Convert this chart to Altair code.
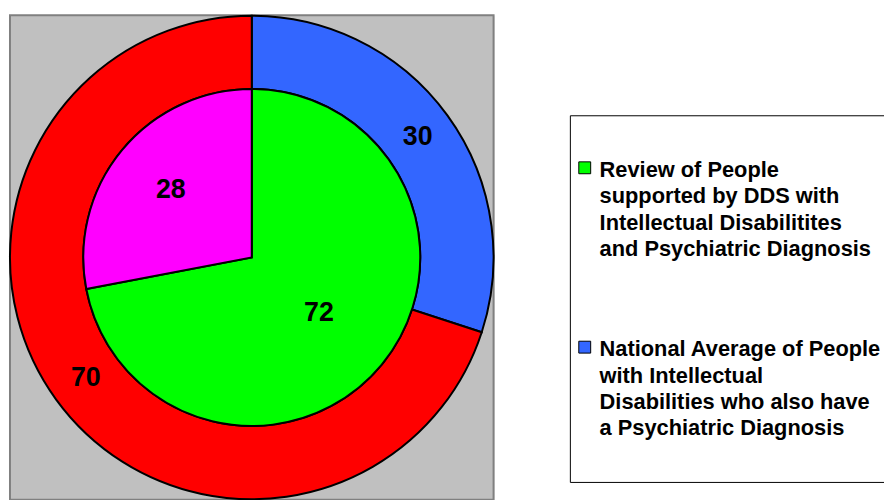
import altair as alt
import pandas as pd

# Outer ring: national average
outer_series = [
    "National Average of People|with Intellectual|Disabilities who also have|a Psychiatric Diagnosis",
    "National Average: other",
]
outer_values = [30, 70]

# Inner pie: review of people supported by DDS
inner_series = [
    "Review of People|supported by DDS with|Intellectual Disabilitites|and Psychiatric Diagnosis",
    "Review: other",
]
inner_values = [72, 28]

series_domain = [outer_series[0], outer_series[1], inner_series[0], inner_series[1]]
series_colors = ["#3366FF", "#FF0000", "#00FF00", "#FF00FF"]
legend_values = [inner_series[0], outer_series[0]]

outer_df = pd.DataFrame({"series": outer_series, "value": outer_values, "idx": list(range(len(outer_values)))})
inner_df = pd.DataFrame({"series": inner_series, "value": inner_values, "idx": list(range(len(inner_values)))})

W, H = 488, 489
P = 42
color = alt.Color(
    "series:N",
    scale=alt.Scale(domain=series_domain, range=series_colors),
    legend=alt.Legend(
        title=None,
        orient="none",
        legendX=565,
        legendY=101,
        values=legend_values,
        labelExpr="split(datum.label, '|')",
        symbolType="square",
        symbolSize=144,
        symbolStrokeColor="black",
        symbolStrokeWidth=1,
        labelFont="Liberation Sans",
        labelFontSize=22,
        labelFontWeight="bold",
        labelColor="black",
        labelLimit=1000,
        padding=P,
        symbolOffset={"expr": str(4 - P)},
        labelOffset=4,
        rowPadding=76,
        strokeColor="black",
        fillColor="white",
    ),
)

theta = alt.Theta("value:Q", stack=True)
order = alt.Order("idx:Q", sort="ascending")

background = alt.Chart(pd.DataFrame({"v": [0]})).mark_rect(
    fill="#C0C0C0", stroke="#808080", strokeWidth=2
).encode(x=alt.value(0), x2=alt.value(W), y=alt.value(0), y2=alt.value(H))

outer_arc = alt.Chart(outer_df).mark_arc(
    radius=244, innerRadius=170, stroke="black", strokeWidth=2
).encode(theta=theta, color=color, order=order)

inner_arc = alt.Chart(inner_df).mark_arc(
    radius=170, stroke="black", strokeWidth=2
).encode(theta=theta, color=color, order=order)

label_style = dict(font="Liberation Sans", fontSize=27, fontWeight="bold", color="black")

outer_text = alt.Chart(outer_df).mark_text(radius=207, **label_style).encode(
    theta=theta, order=order, text="value:Q"
)
inner_text_main = alt.Chart(inner_df).mark_text(radius=88, **label_style).encode(
    theta=theta, order=order, text="value:Q", opacity=alt.condition("datum.idx == 0", alt.value(1), alt.value(0))
)
inner_text_rest = alt.Chart(inner_df).mark_text(radius=106, **label_style).encode(
    theta=theta, order=order, text="value:Q", opacity=alt.condition("datum.idx == 1", alt.value(1), alt.value(0))
)

chart = alt.layer(
    background, outer_arc, inner_arc, outer_text, inner_text_main, inner_text_rest
).properties(
    width=W,
    height=H,
    padding={"left": 2, "top": 5, "right": 394, "bottom": 0},
    autosize=alt.AutoSizeParams(type="none"),
).configure(
    style={"guide-label": {"lineHeight": 26.7, "dy": 2}},
)

chart.save("out.html", embed_options={"renderer": "svg", "actions": False})
